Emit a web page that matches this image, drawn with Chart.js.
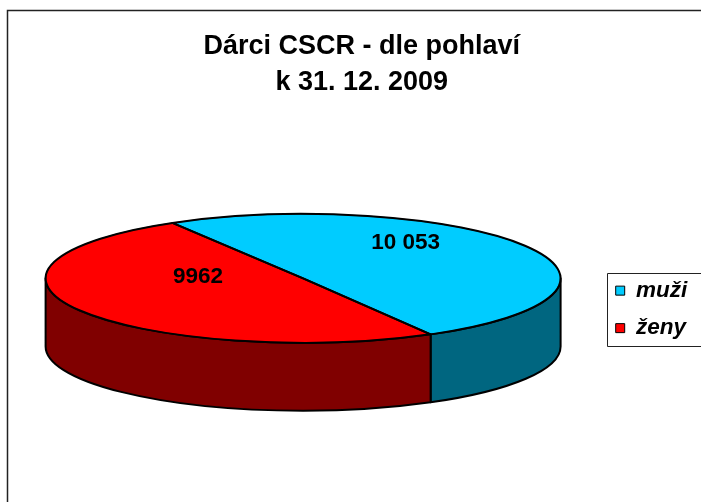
<!DOCTYPE html>
<html>
<head>
<meta charset="utf-8">
<script src="https://cdn.jsdelivr.net/npm/chart.js@4.4.1/dist/chart.umd.min.js"></script>
<style>
  body { margin: 0; background: #fff; }
  #wrap { width: 701px; height: 502px; }
</style>
</head>
<body>
<div id="wrap"><canvas id="pie" width="701" height="502"></canvas></div>
<script>
const titleLines = ["Dárci CSCR - dle pohlaví", "k 31. 12. 2009"];
const categories = ["muži", "ženy"];
const donors = [10053, 9962];
const topColors = ["#00CCFF", "#FF0000"];
const sideColors = ["#006680", "#800000"];

const FONT = 'Arial, "Liberation Sans", sans-serif';
// the Excel chart frame is wider than the screenshot, it runs past the right edge
const FRAME = { left: 7.5, top: 10.5, right: 716 };

// Czech style: group thousands only from 5 digits up ("9962", "10 053")
function formatCount(n) {
  const s = String(n);
  if (s.length < 5) return s;
  return s.replace(/\B(?=(\d{3})+(?!\d))/g, " ");
}

function pieGeometry(arc, opts) {
  const rx = arc.outerRadius;
  const depth = rx * opts.depthRatio;
  return {
    cx: arc.x,
    cy: arc.y,
    rx: rx,
    ry: rx * opts.tilt,
    depth: depth,
    top: arc.y - depth / 2,
  };
}

// Excel-like 3D pie: side walls first, then the flattened top drawn by Chart.js
const pie3d = {
  id: "pie3d",
  afterLayout(chart, args, opts) {
    // centre the title on the whole frame, not only on the visible part
    chart.titleBlock.left = FRAME.left;
    chart.titleBlock.right = FRAME.right;
    // legend sits a little above the middle of the plot area
    chart.legend.top -= opts.legendLift;
    chart.legend.bottom -= opts.legendLift;
  },
  beforeDraw(chart) {
    const ctx = chart.ctx;
    ctx.save();
    ctx.strokeStyle = "#222";
    ctx.lineWidth = 1.5;
    ctx.beginPath();
    ctx.moveTo(FRAME.left, chart.height);
    ctx.lineTo(FRAME.left, FRAME.top);
    ctx.lineTo(FRAME.right, FRAME.top);
    ctx.stroke();
    ctx.restore();
  },
  beforeDatasetsDraw(chart, args, opts) {
    const ctx = chart.ctx;
    const arcs = chart.getDatasetMeta(0).data;
    const g = pieGeometry(arcs[0], opts);

    arcs.forEach((arc, i) => {
      for (let k = -1; k <= 1; k++) {
        const lo = Math.max(arc.startAngle, 2 * Math.PI * k);
        const hi = Math.min(arc.endAngle, 2 * Math.PI * k + Math.PI);
        if (hi <= lo) continue;
        ctx.beginPath();
        ctx.ellipse(g.cx, g.top, g.rx, g.ry, 0, lo, hi);
        ctx.ellipse(g.cx, g.top + g.depth, g.rx, g.ry, 0, hi, lo, true);
        ctx.closePath();
        ctx.fillStyle = opts.sideColors[i];
        ctx.fill();
        ctx.lineWidth = opts.lineWidth;
        ctx.strokeStyle = "#000";
        ctx.lineJoin = "round";
        ctx.stroke();
      }
    });

    ctx.save();
    ctx.translate(g.cx, g.top);
    ctx.scale(1, opts.tilt);
    ctx.translate(-g.cx, -g.cy);
  },
  afterDatasetsDraw(chart, args, opts) {
    const ctx = chart.ctx;
    ctx.restore();

    const arcs = chart.getDatasetMeta(0).data;
    const g = pieGeometry(arcs[0], opts);
    const values = chart.data.datasets[0].data;

    // top outlines with an even line width
    arcs.forEach((arc) => {
      ctx.beginPath();
      ctx.moveTo(g.cx, g.top);
      ctx.ellipse(g.cx, g.top, g.rx, g.ry, 0, arc.startAngle, arc.endAngle);
      ctx.closePath();
      ctx.lineWidth = opts.lineWidth;
      ctx.strokeStyle = "#000";
      ctx.lineJoin = "round";
      ctx.stroke();
    });

    // value labels
    ctx.save();
    ctx.font = "bold 22.5px " + FONT;
    ctx.fillStyle = "#000";
    ctx.textAlign = "center";
    ctx.textBaseline = "middle";
    arcs.forEach((arc, i) => {
      const spot = opts.labelSpots[i];
      ctx.fillText(
        formatCount(values[i]),
        g.cx + spot[0] * g.rx,
        g.top + spot[1] * g.ry + 1
      );
    });
    ctx.restore();
  },
  afterDraw(chart) {
    // frame around the legend, also running off the right edge
    const boxes = chart.legend.legendHitBoxes;
    if (!boxes || !boxes.length) return;
    const first = boxes[0];
    const last = boxes[boxes.length - 1];
    const ctx = chart.ctx;
    ctx.save();
    ctx.strokeStyle = "#222";
    ctx.lineWidth = 1;
    const x = Math.round(first.left - 9) + 0.5;
    const y = Math.round(first.top - 6.5) + 0.5;
    const h = Math.round(last.top + last.height + 6 - (first.top - 6.5));
    ctx.strokeRect(x, y, FRAME.right - x, h);
    ctx.restore();
  },
};

const ctx = document.getElementById("pie").getContext("2d");
new Chart(ctx, {
  type: "pie",
  data: {
    labels: categories,
    datasets: [
      {
        data: donors,
        backgroundColor: topColors,
        borderColor: "#000",
        borderWidth: 1,
        radius: 257.5,
      },
    ],
  },
  options: {
    responsive: false,
    animation: false,
    events: [],
    rotation: -30.5,
    layout: {
      padding: { left: 5.5, right: 3.8, top: 0, bottom: 0 },
    },
    plugins: {
      title: {
        display: true,
        text: titleLines,
        color: "#000",
        font: { family: FONT, size: 27, weight: "bold", lineHeight: 1.32 },
        padding: { top: 29, bottom: 22.5 },
      },
      legend: {
        position: "right",
        fullSize: false,
        labels: {
          color: "#000",
          boxWidth: 9,
          boxHeight: 9,
          padding: 15,
          font: { family: FONT, size: 22.5, weight: "bold", style: "italic" },
        },
      },
      tooltip: { enabled: false },
      pie3d: {
        tilt: 0.25,
        depthRatio: 0.264,
        lineWidth: 2,
        legendLift: 3,
        sideColors: sideColors,
        labelSpots: [
          [0.398, -0.57],
          [-0.408, -0.047],
        ],
      },
    },
  },
  plugins: [pie3d],
});
</script>
</body>
</html>
